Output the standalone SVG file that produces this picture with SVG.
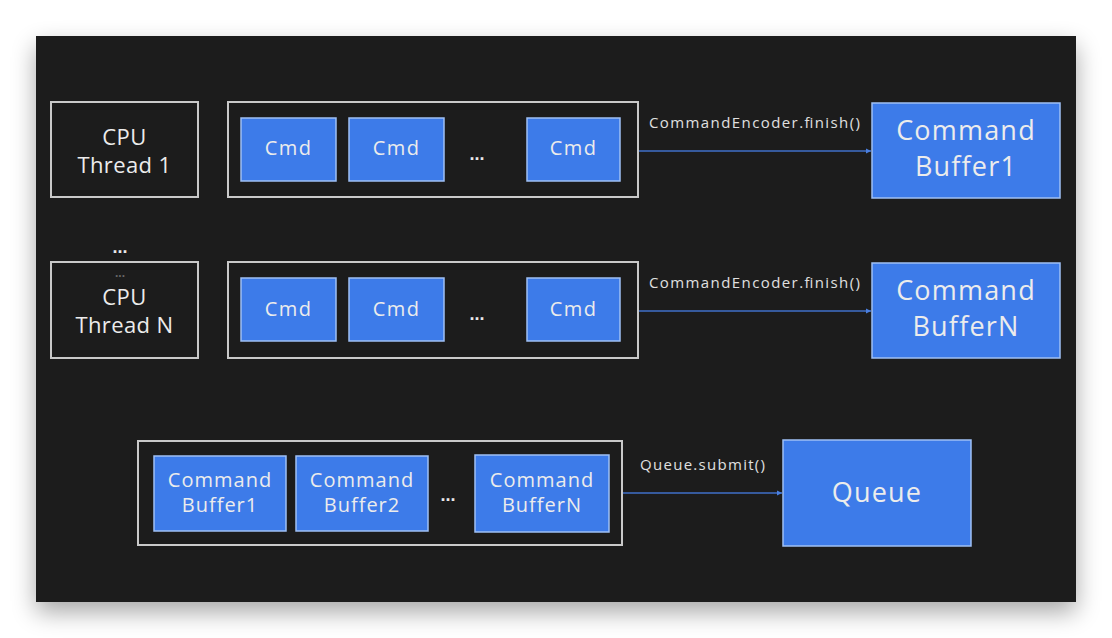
<svg xmlns="http://www.w3.org/2000/svg" width="1112" height="638" viewBox="0 0 1112 638">
<defs>
<filter id="sh" x="-10%" y="-10%" width="120%" height="125%">
<feGaussianBlur in="SourceAlpha" stdDeviation="12"/>
<feOffset dy="10"/>
<feComponentTransfer><feFuncA type="linear" slope="0.35"/></feComponentTransfer>
<feMerge><feMergeNode/><feMergeNode in="SourceGraphic"/></feMerge>
</filter>
<marker id="ah" markerWidth="6" markerHeight="6" refX="5" refY="3" orient="auto" markerUnits="userSpaceOnUse">
<path d="M0,0.5 L5,3 L0,5.5 Z" fill="#4a7fe0"/>
</marker>
<style>
.out{fill:none;stroke:#c9c9c9;stroke-width:2}
.blue{fill:#3d7be9;stroke:#9fc0f5;stroke-width:1.5}
.t{font-family:"Open Sans","Liberation Sans",sans-serif;fill:#ececec;text-anchor:middle}
.cpu{font-size:22px;letter-spacing:0.4px}
.cmd{font-size:20px;letter-spacing:1.4px}
.big{font-size:27px;letter-spacing:1.2px}
.cb{font-size:20px;letter-spacing:1px}
.lbl{font-family:"Open Sans","Liberation Sans",sans-serif;fill:#e0e0e0;font-size:15px}
.dots{font-family:"Liberation Sans",sans-serif;fill:#e8e8e8;font-size:18px;font-weight:bold;text-anchor:middle}
.conn{stroke:#3f6fc8;stroke-width:1.6;fill:none;marker-end:url(#ah)}
</style>
</defs>
<rect width="1112" height="638" fill="#ffffff"/>
<rect x="36" y="36" width="1040" height="566" fill="#1c1c1c" filter="url(#sh)"/>

<g id="cpu1">
<rect class="out" x="51" y="102" width="147" height="95"/>
<text class="t cpu" x="124.5" y="145">CPU</text>
<text class="t cpu" x="124.5" y="173">Thread 1</text>
</g>
<g id="enc1">
<rect class="out" x="228" y="102" width="410" height="95"/>
<rect class="blue" x="241" y="118" width="95" height="63"/>
<text class="t cmd" x="288.5" y="155">Cmd</text>
<rect class="blue" x="349" y="118" width="95" height="63"/>
<text class="t cmd" x="396.5" y="155">Cmd</text>
<text class="dots" x="477" y="160">...</text>
<rect class="blue" x="527" y="118" width="93" height="63"/>
<text class="t cmd" x="573.5" y="155">Cmd</text>
</g>
<g id="cbuf1">
<rect class="blue" x="872" y="103" width="188" height="95"/>
<text class="t big" x="966" y="140">Command</text>
<text class="t big" x="966" y="176">Buffer1</text>
</g>

<text class="dots" x="120" y="253">...</text>

<g id="cpuN">
<rect class="out" x="51" y="262" width="147" height="96"/>
<text class="dots" x="120" y="277" style="fill:#666;font-size:12px">...</text>
<text class="t cpu" x="124.5" y="305">CPU</text>
<text class="t cpu" x="124.5" y="333">Thread N</text>
</g>
<g id="encN">
<rect class="out" x="228" y="262" width="410" height="96"/>
<rect class="blue" x="241" y="278" width="95" height="63"/>
<text class="t cmd" x="288.5" y="316">Cmd</text>
<rect class="blue" x="349" y="278" width="95" height="63"/>
<text class="t cmd" x="396.5" y="316">Cmd</text>
<text class="dots" x="477" y="320">...</text>
<rect class="blue" x="527" y="278" width="93" height="63"/>
<text class="t cmd" x="573.5" y="316">Cmd</text>
</g>
<g id="cbufN">
<rect class="blue" x="872" y="263" width="188" height="95"/>
<text class="t big" x="966" y="300">Command</text>
<text class="t big" x="966" y="336">BufferN</text>
</g>

<g id="batch">
<rect class="out" x="138" y="441" width="484" height="104"/>
<rect class="blue" x="154" y="456" width="132" height="75"/>
<text class="t cb" x="220" y="487">Command</text>
<text class="t cb" x="220" y="512">Buffer1</text>
<rect class="blue" x="296" y="456" width="132" height="75"/>
<text class="t cb" x="362" y="487">Command</text>
<text class="t cb" x="362" y="512">Buffer2</text>
<text class="dots" x="448" y="501">...</text>
<rect class="blue" x="475" y="455" width="134" height="77"/>
<text class="t cb" x="542" y="487">Command</text>
<text class="t cb" x="542" y="512">BufferN</text>
</g>
<g id="queue">
<rect class="blue" x="783" y="440" width="188" height="106"/>
<text class="t big" x="877" y="502">Queue</text>
</g>

<g id="connectors">
<line class="conn" x1="639" y1="151" x2="871" y2="151"/>
<text class="lbl" x="649" y="128" textLength="211" lengthAdjust="spacing">CommandEncoder.finish()</text>
<line class="conn" x1="639" y1="311" x2="871" y2="311"/>
<text class="lbl" x="649" y="288" textLength="211" lengthAdjust="spacing">CommandEncoder.finish()</text>
<line class="conn" x1="623" y1="493" x2="782" y2="493"/>
<text class="lbl" x="640" y="470" textLength="125" lengthAdjust="spacing">Queue.submit()</text>
</g>
</svg>
